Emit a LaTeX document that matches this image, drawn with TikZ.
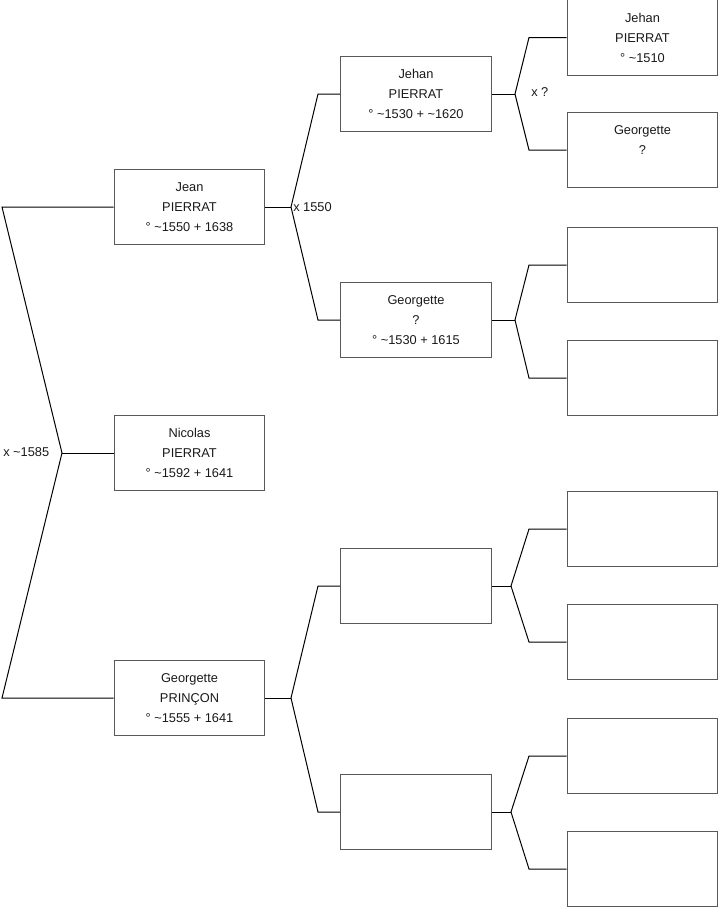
\documentclass[tikz,border=0pt]{standalone}
\usepackage{fontspec}
\setmainfont{Liberation Sans}
\begin{document}
\begin{tikzpicture}[x=0.75pt,y=-0.75pt,
  person/.style={draw=black!65,line width=0.75pt,minimum width=113pt,minimum height=56.5pt,
    align=center,font=\fontsize{9.6pt}{15pt}\selectfont,inner sep=0pt,text=black!90},
  link/.style={draw=black,line width=0.75pt},
  lbl/.style={font=\fontsize{9.6pt}{11pt}\selectfont,inner sep=0pt,text=black!90}]
\useasboundingbox (0,0) rectangle (719,908);
% generation 1-2
\node[person] (jean) at (189.5,207) {Jean\\PIERRAT\\° \textasciitilde1550 + 1638};
\node[person] (nicolas) at (189.5,453) {Nicolas\\PIERRAT\\° \textasciitilde1592 + 1641};
\node[person] (prin) at (189.5,698) {Georgette\\PRINÇON\\° \textasciitilde1555 + 1641};
% generation 3
\node[person] (jehan) at (416,94) {Jehan\\PIERRAT\\° \textasciitilde1530 + \textasciitilde1620};
\node[person] (georq) at (416,320) {Georgette\\?\\° \textasciitilde1530 + 1615};
\node[person] (e3a) at (416,586) {};
\node[person] (e3b) at (416,812) {};
% generation 4
\node[person] (jehan2) at (642.5,37.5) {Jehan\\PIERRAT\\° \textasciitilde1510};
\node[person] (georq2) at (642.5,150) {Georgette\\?\\\phantom{0}};
\node[person] (e4a) at (642.5,265) {};
\node[person] (e4b) at (642.5,378) {};
\node[person] (e4c) at (642.5,529) {};
\node[person] (e4d) at (642.5,642) {};
\node[person] (e4e) at (642.5,756) {};
\node[person] (e4f) at (642.5,869) {};
% junctions
\coordinate (ja) at (2,207);
\coordinate (jb) at (2,698);
\coordinate (j0) at (62,453);
\coordinate (j1) at (291,207);
\coordinate (j1a) at (318,94);
\coordinate (j1b) at (318,320);
\coordinate (j2) at (291,698);
\coordinate (j2a) at (318,586);
\coordinate (j2b) at (318,812);
\coordinate (k1) at (515,94);
\coordinate (k1a) at (529,37.5);
\coordinate (k1b) at (529,150);
\coordinate (k2) at (515,320);
\coordinate (k2a) at (529,265);
\coordinate (k2b) at (529,378);
\coordinate (k3) at (511,586);
\coordinate (k3a) at (529,529);
\coordinate (k3b) at (529,642);
\coordinate (k4) at (511,812);
\coordinate (k4a) at (529,756);
\coordinate (k4b) at (529,869);
% connectors
\draw[link] (jean.west) -- (ja) -- (j0) -- (jb) -- (prin.west);
\draw[link] (nicolas.west) -- (j0);
\draw[link] (jehan.west) -- (j1a) -- (j1) -- (j1b) -- (georq.west);
\draw[link] (jean.east) -- (j1);
\draw[link] (e3a.west) -- (j2a) -- (j2) -- (j2b) -- (e3b.west);
\draw[link] (prin.east) -- (j2);
\draw[link] (jehan2.west) -- (k1a) -- (k1) -- (k1b) -- (georq2.west);
\draw[link] (jehan.east) -- (k1);
\draw[link] (e4a.west) -- (k2a) -- (k2) -- (k2b) -- (e4b.west);
\draw[link] (georq.east) -- (k2);
\draw[link] (e4c.west) -- (k3a) -- (k3) -- (k3b) -- (e4d.west);
\draw[link] (e3a.east) -- (k3);
\draw[link] (e4e.west) -- (k4a) -- (k4) -- (k4b) -- (e4f.west);
\draw[link] (e3b.east) -- (k4);
% labels
\node[lbl,anchor=west] (m0) at (3,452) {x \textasciitilde1585};
\node[lbl,anchor=west] (m1) at (293,207) {x 1550};
\node[lbl,anchor=west] (m2) at (531,92) {x ?};
\end{tikzpicture}
\end{document}
